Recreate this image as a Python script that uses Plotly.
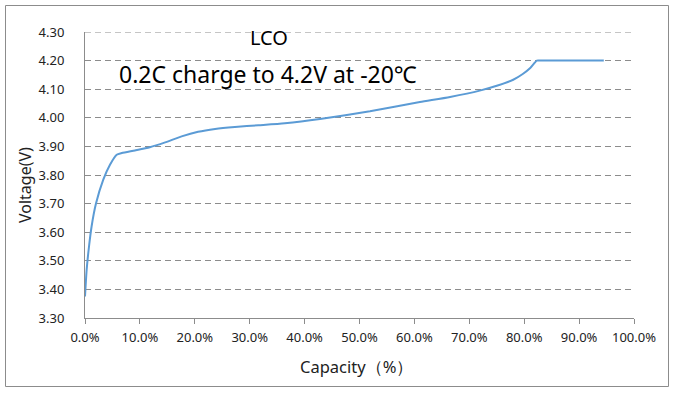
import plotly.graph_objects as go

capacity = [0.0, 0.003, 0.0073, 0.012, 0.020, 0.0333, 0.0455, 0.0577, 0.067, 0.091, 0.118,
            0.146, 0.176, 0.206, 0.237, 0.273, 0.316, 0.364, 0.428, 0.519, 0.61, 0.665,
            0.719, 0.75, 0.78, 0.798, 0.811, 0.823, 0.83, 0.945]
voltage = [3.375, 3.468, 3.550, 3.620, 3.700, 3.784, 3.836, 3.871, 3.877, 3.886, 3.897,
           3.914, 3.935, 3.951, 3.961, 3.968, 3.974, 3.981, 3.996, 4.023, 4.055, 4.073,
           4.095, 4.112, 4.133, 4.154, 4.174, 4.200, 4.200, 4.200]

x_ticks = [i / 10 for i in range(11)]
y_ticks = [3.3 + i * 0.1 for i in range(11)]

FONT = "Noto Sans"
L, R, T, B = 85, 634, 32, 318  # plot area in pixels
PW, PH = R - L, B - T


def px(x):
    return (x - L) / PW


def py(y):
    return (B - y) / PH


fig = go.Figure()
fig.add_trace(go.Scatter(x=capacity, y=voltage, mode="lines",
                         line=dict(color="#5B9BD5", width=2, shape="spline", smoothing=0.6),
                         showlegend=False, hoverinfo="skip"))

fig.update_layout(
    width=674, height=394,
    margin=dict(l=L, r=674 - R, t=T, b=394 - B, autoexpand=False),
    paper_bgcolor="white", plot_bgcolor="white",
    font=dict(family=FONT, color="#222", size=13),
    xaxis=dict(range=[0, 1], tickvals=x_ticks, tickformat=".1%", automargin=False,
               showgrid=False, zeroline=False, showline=True, linecolor="#8c8c8c",
               linewidth=1, ticks="outside", ticklen=5, tickcolor="#8c8c8c",
               ticklabelstandoff=2,
               tickfont=dict(size=13, family=FONT, color="#222")),
    yaxis=dict(range=[3.3, 4.3], tickvals=y_ticks, tickformat=".2f", automargin=False,
               showgrid=True, gridcolor="#8c8c8c", griddash="6px,4px", gridwidth=1,
               zeroline=False, showline=True, linecolor="#8c8c8c", linewidth=1,
               ticks="", ticklabelstandoff=17,
               tickfont=dict(size=13, family=FONT, color="#222")),
    shapes=[
        dict(type="line", xref="paper", yref="y", x0=0, x1=1, y0=4.3, y1=4.3,
             line=dict(color="#8c8c8c", width=1, dash="6px,4px")),
        dict(type="rect", xref="paper", yref="paper",
             x0=px(5.5), x1=px(668.5), y0=py(386.5), y1=py(5.5),
             line=dict(color="#8c8c8c", width=1), fillcolor="rgba(0,0,0,0)", layer="below"),
    ],
    annotations=[
        dict(text="LCO", xref="paper", yref="paper", x=px(269), y=py(37),
             xanchor="center", yanchor="middle",
             showarrow=False, font=dict(size=20, family=FONT, color="#000")),
        dict(text="0.2C charge to 4.2V at -20℃", xref="paper", yref="paper",
             x=px(268), y=py(74), xanchor="center", yanchor="middle",
             showarrow=False, font=dict(size=23, family=FONT, color="#000")),
        dict(text="Voltage(V)", xref="paper", yref="paper", x=px(25),
             y=py(185), textangle=-90, xanchor="center", yanchor="middle", showarrow=False,
             font=dict(size=16, family=FONT, color="#222")),
        dict(text="Capacity（%）", xref="paper", yref="paper", x=px(356),
             y=py(366), xanchor="center", yanchor="middle", showarrow=False,
             font=dict(size=16.5, family=FONT, color="#222")),
    ],
)

fig.write_html("out.html", config={"displayModeBar": False},
               post_script="document.body.style.margin='0';document.body.style.overflow='hidden';")
